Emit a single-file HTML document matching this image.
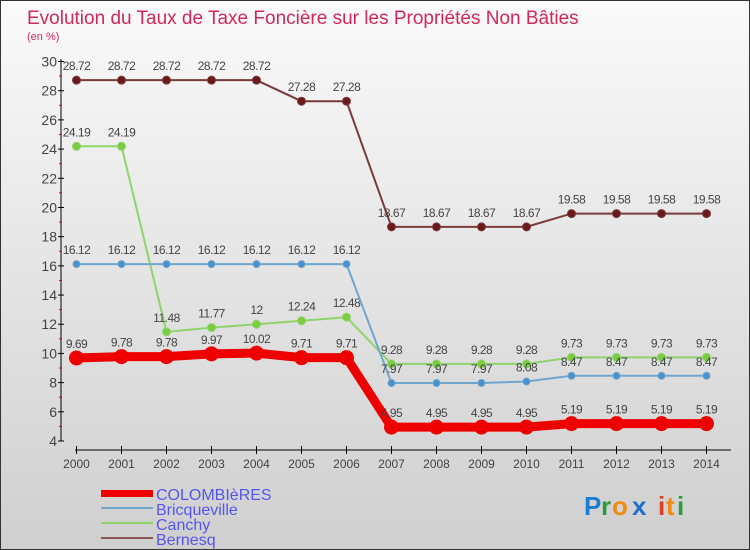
<!DOCTYPE html>
<html><head><meta charset="utf-8"><style>
body{margin:0;}
#c{position:relative;width:748px;height:548px;border:1px solid #333;background:linear-gradient(#fafafa,#cfcfcf);font-family:"Liberation Sans",sans-serif;overflow:hidden}
</style></head><body>
<div id="c">
<svg id="s" width="748" height="548" style="position:absolute;left:0;top:0">
<text x="26" y="23" font-size="19" fill="#d0285a">Evolution du Taux de Taxe Foncière sur les Propriétés Non Bâties</text>
<text x="26" y="39" font-size="11" fill="#d0285a">(en %)</text>
<line x1="60" y1="58" x2="60" y2="440" stroke="#000"/>
<line x1="74" y1="449" x2="730" y2="449" stroke="#000"/>
<g id="g"></g>
<rect x="100" y="489" width="52" height="7" fill="#e00"/>
<line x1="100" y1="507" x2="152" y2="507" stroke="#6fa6cd" stroke-width="2"/>
<line x1="100" y1="522" x2="152" y2="522" stroke="#8fd46a" stroke-width="2"/>
<line x1="100" y1="537" x2="152" y2="537" stroke="#8a5555" stroke-width="2"/>
<g font-size="16" fill="#5555ee">
<text x="155" y="499">COLOMBIèRES</text>
<text x="155" y="514">Bricqueville</text>
<text x="155" y="529">Canchy</text>
<text x="155" y="544">Bernesq</text>
</g>
<g font-size="26" font-weight="bold">
<text x="583" y="514" fill="#1a7fd0">P</text><text x="600" y="514" fill="#2a9a3a">r</text><text x="611" y="514" fill="#f08a10">o</text><text x="631" y="514" fill="#1a6fd0">x</text><text x="657" y="514" fill="#e04020">i</text><text x="665" y="514" fill="#f08a10">t</text><text x="676" y="514" fill="#2a9a3a">i</text>
</g>
</svg>
</div>
<script>
const years=[2000,2001,2002,2003,2004,2005,2006,2007,2008,2009,2010,2011,2012,2013,2014];
const colombieres=[9.69,9.78,9.78,9.97,10.02,9.71,9.71,4.95,4.95,4.95,4.95,5.19,5.19,5.19,5.19];
const bricqueville=[16.12,16.12,16.12,16.12,16.12,16.12,16.12,7.97,7.97,7.97,8.08,8.47,8.47,8.47,8.47];
const canchy=[24.19,24.19,11.48,11.77,12,12.24,12.48,9.28,9.28,9.28,9.28,9.73,9.73,9.73,9.73];
const bernesq=[28.72,28.72,28.72,28.72,28.72,27.28,27.28,18.67,18.67,18.67,18.67,19.58,19.58,19.58,19.58];
const yTicks=[4,6,8,10,12,14,16,18,20,22,24,26,28,30];
const NS="http://www.w3.org/2000/svg";
const g=document.getElementById('g');
const X=i=>75.5+i*45;
const Y=v=>440-(v-4)*(379.5/26);
function mk(t,a){const e=document.createElementNS(NS,t);for(const k in a)e.setAttribute(k,a[k]);g.appendChild(e);return e;}
yTicks.forEach(v=>{
 const y=Y(v);
 const t=mk('line',{x1:57,x2:63,y1:y,y2:y,stroke:'#000'});
 
 
 if(v<30){const m=mk('line',{x1:58,x2:61,y1:Y(v+1),y2:Y(v+1),stroke:'#e00'});
 
 }
 const l=mk('text',{x:56,y:y+5,'font-size':14,fill:'#444','text-anchor':'end'});l.textContent=v;
 
 
});
years.forEach((yr,i)=>{
 const t=mk('line',{x1:X(i),x2:X(i),y1:445,y2:453,stroke:'#000'});
 
 
 const l=mk('text',{x:X(i),y:467,'font-size':12,fill:'#444','text-anchor':'middle'});l.textContent=yr;
 
 
});
function series(d,col,dot,w,r,name){
 const p=mk('polyline',{points:d.map((v,i)=>X(i)+','+Y(v)).join(' '),fill:'none',stroke:col,'stroke-width':w});
 
 
 d.forEach((v,i)=>{
  const c=mk('circle',{cx:X(i),cy:Y(v),r:r,fill:dot,stroke:col,'stroke-width':1});
  
  
  const t=mk('text',{x:X(i),y:Y(v)-10,'font-size':12,fill:'#444','text-anchor':'middle','letter-spacing':'-0.5'});t.textContent=v;
  
  
 });
}
series(bernesq,'#7a3a3a','#6a1a1a',2,4,'bernesq');
series(canchy,'#8fd46a','#7acc40',2,4,'canchy');
series(bricqueville,'#6fa6cd','#4a90cc',2,3.5,'bricqueville');
series(colombieres,'#e00','#e00',9,7,'colombieres');
</script>
</body></html>
